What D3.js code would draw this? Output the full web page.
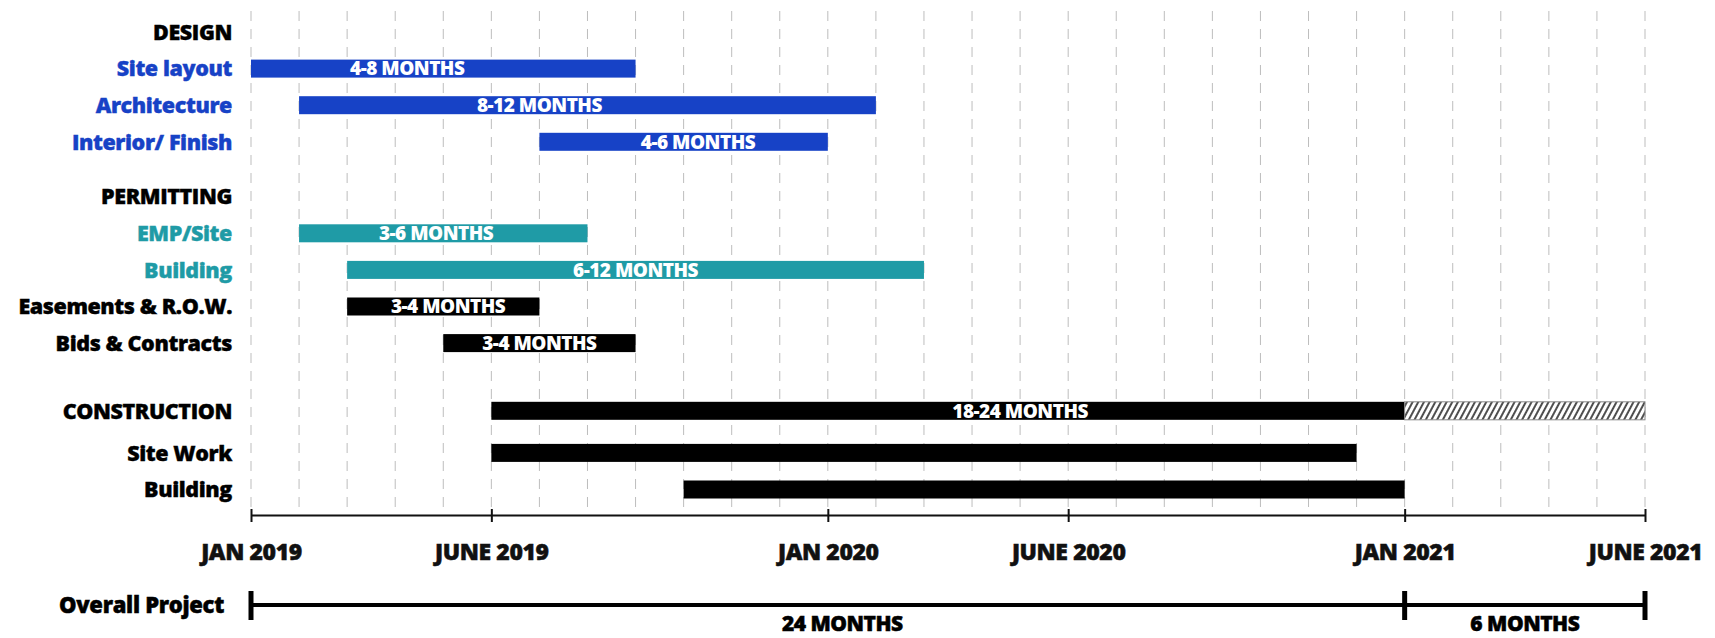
<!DOCTYPE html>
<html>
<head>
<meta charset="utf-8">
<script src="https://cdn.jsdelivr.net/npm/d3@7"></script>
<style>
  body { margin: 0; background: #fff; }
  svg text { font-family: 'Open Sans', sans-serif; font-weight: 800; }
</style>
</head>
<body>
<div id="chart"></div>
<script>
// rows, top to bottom (headings have no bar)
const rowNames = ["DESIGN", "Site layout", "Architecture", "Interior/ Finish",
  "PERMITTING", "EMP/Site", "Building", "Easements & R.O.W.", "Bids & Contracts",
  "CONSTRUCTION", "Site Work", "Building"];
const rowSlots = [0, 1, 2, 3, 4.5, 5.5, 6.5, 7.5, 8.5, 10.35, 11.5, 12.5];
const rowGroups = ["heading", "design", "design", "design", "heading", "permit", "permit",
  "other", "other", "other", "other", "other"];
const barStarts = [null, "2019-01", "2019-02", "2019-07", null, "2019-02", "2019-03",
  "2019-03", "2019-05", "2019-06", "2019-06", "2019-10"];
const barEnds = [null, "2019-09", "2020-02", "2020-01", null, "2019-08", "2020-03",
  "2019-07", "2019-09", "2021-01", "2020-12", "2021-01"];
const barTexts = ["", "4-8 MONTHS", "8-12 MONTHS", "4-6 MONTHS", "", "3-6 MONTHS", "6-12 MONTHS",
  "3-4 MONTHS", "3-4 MONTHS", "18-24 MONTHS", "", ""];
// where the duration text sits, in months after Jan 2019
const barTextAt = [null, 3.25, 6, 9.3, null, 3.85, 8, 4.1, 6, 16, null, null];

// possible extension of construction (hatched)
const extensionRow = 9;
const extensionEnd = "2021-06";

const tickDates = ["2019-01", "2019-06", "2020-01", "2020-06", "2021-01", "2021-06"];
const tickLabels = ["JAN 2019", "JUNE 2019", "JAN 2020", "JUNE 2020", "JAN 2021", "JUNE 2021"];

const overallMarks = ["2019-01", "2021-01", "2021-06"];
const overallTexts = ["24 MONTHS", "6 MONTHS"];
const overallTextAt = [12.3, 26.5];

const colors = { heading: "#000", design: "#1742c6", permit: "#1f9ba6", other: "#000" };

const W = 1715, H = 638;
const start = new Date(2019, 0, 1);
const parseMonth = d3.timeParse("%Y-%m");
const m = s => d3.timeMonth.count(start, parseMonth(s));

const x = d3.scaleLinear().domain([0, m("2021-06")]).range([251, 1645]);
const y = d3.scaleLinear().domain([0, 12.5]).range([32, 489.5]);
const barH = 18;

const svg = d3.select("#chart")
  .append("svg")
  .attr("width", W)
  .attr("height", H);

const defs = svg.append("defs");
const hatch = defs.append("pattern")
  .attr("id", "hatch")
  .attr("patternUnits", "userSpaceOnUse")
  .attr("width", 5)
  .attr("height", 6)
  .attr("patternTransform", "rotate(28)");
hatch.append("rect").attr("width", 5).attr("height", 6).attr("fill", "#fff");
hatch.append("line")
  .attr("x1", 1).attr("x2", 1).attr("y1", 0).attr("y2", 6)
  .attr("stroke", "#222").attr("stroke-width", 1.6);

// monthly dashed grid
svg.append("g")
  .selectAll("line")
  .data(d3.range(0, m("2021-06") + 1))
  .join("line")
  .attr("x1", d => x(d)).attr("x2", d => x(d))
  .attr("y1", 11).attr("y2", 510)
  .attr("stroke", "#bdbdbd")
  .attr("stroke-width", 1)
  .attr("stroke-dasharray", "10,8");

const rows = rowNames.map((name, i) => ({
  name, slot: rowSlots[i], group: rowGroups[i],
  s: barStarts[i], e: barEnds[i], text: barTexts[i], at: barTextAt[i]
}));

// row labels
svg.append("g")
  .selectAll("text")
  .data(rows)
  .join("text")
  .attr("x", 232)
  .attr("y", d => y(d.slot))
  .attr("dy", "0.36em")
  .attr("text-anchor", "end")
  .attr("fill", d => colors[d.group])
  .attr("stroke", d => colors[d.group])
  .attr("stroke-width", 0.4)
  .style("font-size", "21.5px")
  .style("letter-spacing", "-0.4px")
  .text(d => d.name);

const bars = rows.filter(d => d.s);

svg.append("g")
  .selectAll("rect")
  .data(bars)
  .join("rect")
  .attr("x", d => x(m(d.s)))
  .attr("y", d => y(d.slot) - barH / 2)
  .attr("width", d => x(m(d.e)) - x(m(d.s)))
  .attr("height", barH)
  .attr("fill", d => colors[d.group]);

// hatched extension
const ext = rows[extensionRow];
svg.append("rect")
  .attr("x", x(m(ext.e)))
  .attr("y", y(ext.slot) - barH / 2)
  .attr("width", x(m(extensionEnd)) - x(m(ext.e)))
  .attr("height", barH)
  .attr("fill", "url(#hatch)")
  .attr("stroke", "#888")
  .attr("stroke-width", 1);

svg.append("g")
  .selectAll("text")
  .data(bars.filter(d => d.text))
  .join("text")
  .attr("x", d => x(d.at))
  .attr("y", d => y(d.slot))
  .attr("dy", "0.36em")
  .attr("text-anchor", "middle")
  .attr("fill", "#fff")
  .style("font-size", "19px")
  .style("letter-spacing", "-0.5px")
  .text(d => d.text);

// time axis
const axis = svg.append("g")
  .attr("transform", "translate(0,515)")
  .call(d3.axisBottom(x)
    .tickValues(tickDates.map(m))
    .tickFormat((d, i) => tickLabels[i])
    .tickSizeOuter(0));
axis.select(".domain").attr("stroke", "#111").attr("stroke-width", 2);
axis.selectAll(".tick line").attr("y1", -6).attr("y2", 7).attr("stroke", "#111").attr("stroke-width", 2);
axis.selectAll(".tick text")
  .attr("y", 45).attr("dy", null)
  .attr("fill", "#111")
  .attr("stroke", "#111")
  .attr("stroke-width", 0.5)
  .style("font-size", "23px")
  .style("letter-spacing", "-0.4px")
  .style("font-family", "'Open Sans', sans-serif")
  .style("font-weight", 800);

// overall project bracket
const ov = svg.append("g");
ov.append("text")
  .attr("x", 224).attr("y", 605).attr("dy", "0.36em")
  .attr("text-anchor", "end")
  .attr("stroke", "#000").attr("stroke-width", 0.5)
  .style("font-size", "22px")
  .style("letter-spacing", "-0.3px")
  .text("Overall Project");
ov.append("line")
  .attr("x1", x(m(overallMarks[0]))).attr("x2", x(m(overallMarks[overallMarks.length - 1])))
  .attr("y1", 605).attr("y2", 605)
  .attr("stroke", "#000").attr("stroke-width", 4);
ov.selectAll("line.cap")
  .data(overallMarks)
  .join("line")
  .attr("class", "cap")
  .attr("x1", d => x(m(d))).attr("x2", d => x(m(d)))
  .attr("y1", 591).attr("y2", 620)
  .attr("stroke", "#000").attr("stroke-width", 5);
ov.selectAll("text.seg")
  .data(overallTexts)
  .join("text")
  .attr("class", "seg")
  .attr("x", (d, i) => x(overallTextAt[i]))
  .attr("y", 631)
  .attr("text-anchor", "middle")
  .attr("stroke", "#000").attr("stroke-width", 0.5)
  .style("font-size", "21px")
  .style("letter-spacing", "-0.5px")
  .text(d => d);
</script>
</body>
</html>
